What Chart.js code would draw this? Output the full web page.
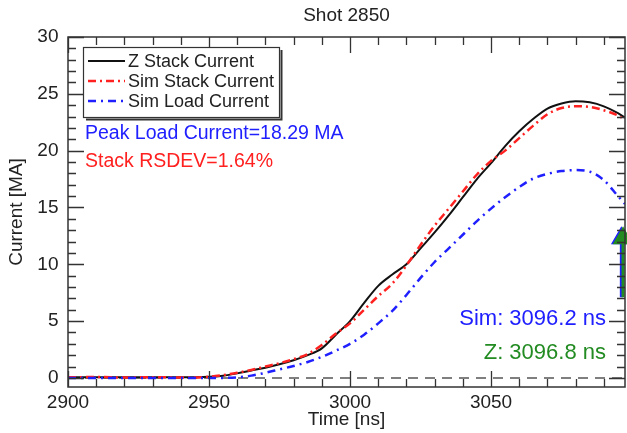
<!DOCTYPE html>
<html>
<head>
<meta charset="utf-8">
<script src="https://cdn.jsdelivr.net/npm/chart.js@4.4.1/dist/chart.umd.min.js"></script>
<style>
  body { margin: 0; background: #fff; }
  #wrap { width: 627px; height: 433px; position: relative; }
</style>
</head>
<body>
<div id="wrap"><canvas id="shotChart"></canvas></div>
<script>
// Time axis samples [ns]
const times = [2900, 2910, 2920, 2930, 2940, 2950, 2955, 2960, 2965, 2970, 2975, 2980, 2985, 2990, 2995,
  3000, 3005, 3010, 3015, 3020, 3025, 3030, 3035, 3040, 3045, 3050, 3055, 3060, 3065, 3070, 3075,
  3080, 3085, 3090, 3095, 3097.5];

// Currents [MA]
const zStack = [0.05, 0.05, 0.05, 0.05, 0.05, 0.1, 0.2, 0.4, 0.65, 0.9, 1.2, 1.55, 2.0, 2.6, 3.8,
  5.0, 6.6, 8.1, 9.1, 10.0, 11.4, 12.8, 14.3, 15.9, 17.5, 18.9, 20.4, 21.7, 22.8, 23.7, 24.15,
  24.35, 24.25, 23.9, 23.3, 22.9];
const simStack = [0.05, 0.08, 0.03, 0.06, 0.04, 0.1, 0.25, 0.45, 0.7, 1.0, 1.3, 1.65, 2.1, 2.9, 3.9,
  4.8, 6.0, 7.2, 8.3, 9.9, 11.7, 13.4, 14.9, 16.4, 17.9, 19.1, 20.0, 21.1, 22.2, 23.2, 23.75,
  23.9, 23.85, 23.55, 23.1, 22.7];
const simLoad = [0, 0, 0, 0, 0, 0, 0, 0.05, 0.2, 0.45, 0.75, 1.05, 1.4, 1.85, 2.4,
  3.0, 3.8, 4.8, 5.9, 7.3, 8.8, 10.2, 11.4, 12.6, 13.8, 14.9, 15.9, 16.8, 17.55, 17.95, 18.2,
  18.29, 18.15, 17.4, 16.0, 15.3];

// Timing markers (arrows) [ns] and their extent [MA]
const markerTimes = [3096.2, 3096.8];
const markerRange = [7.1, 12.3];

// Axis ranges and ticks
const xMin = 2900, xMax = 3097.5;
const yMin = -0.8, yMax = 30;
const xTicks = [2900, 2950, 3000, 3050];
const yTicks = [0, 5, 10, 15, 20, 25, 30];

const FONT = '"Liberation Sans", Arial, sans-serif';
const BLUE = '#2020ff', RED = '#ff2020', GREEN = '#228b22', INK = '#222';

function pts(ys) {
    return times.map((t, i) => ({ x: t, y: ys[i] }));
}

// Draws the IDL-style box, inward ticks, legend and annotations
const decor = {
    id: 'decor',
    afterDraw(chart) {
        const c = chart.ctx;
        const a = chart.chartArea;
        const xs = chart.scales.x, ys = chart.scales.y;
        c.save();
        c.strokeStyle = '#333';
        c.lineWidth = 1.5;
        c.strokeRect(a.left, a.top, a.right - a.left, a.bottom - a.top);

        c.lineWidth = 1.3;
        c.beginPath();
        // x ticks (top and bottom)
        for (let t = xMin; t <= xMax; t += 10) {
            const px = Math.round(xs.getPixelForValue(t)) + 0.5;
            const len = (t % 50 === 0) ? 16 : 8;
            c.moveTo(px, a.bottom); c.lineTo(px, a.bottom - len);
            c.moveTo(px, a.top); c.lineTo(px, a.top + len);
        }
        // y ticks (left and right)
        for (let v = 0; v <= yMax; v += 1) {
            const py = Math.round(ys.getPixelForValue(v)) + 0.5;
            const len = (v % 5 === 0) ? 16 : 8;
            c.moveTo(a.left, py); c.lineTo(a.left + len, py);
            c.moveTo(a.right, py); c.lineTo(a.right - len, py);
        }
        c.stroke();

        // title
        c.fillStyle = INK;
        c.font = '19px ' + FONT;
        c.textAlign = 'center';
        c.textBaseline = 'middle';
        c.fillText('Shot 2850', (a.left + a.right) / 2, 16);

        // legend box
        const lx = 83, ly = 47, lw = 196, lh = 70;
        c.fillStyle = '#fff';
        c.fillRect(lx, ly, lw, lh);
        c.strokeStyle = '#333';
        c.lineWidth = 1.2;
        c.strokeRect(lx + 0.5, ly + 0.5, lw, lh);
        c.lineWidth = 2;
        c.beginPath();
        c.moveTo(lx + 3, ly + lh + 2.5); c.lineTo(lx + lw + 2.5, ly + lh + 2.5); c.lineTo(lx + lw + 2.5, ly + 3);
        c.stroke();
        c.font = '18px ' + FONT;
        chart.data.datasets.slice(0, 3).forEach((ds, i) => {
            const yy = ly + 14 + i * 20;
            c.strokeStyle = ds.borderColor;
            c.lineWidth = ds.borderWidth;
            c.setLineDash(ds.borderDash || []);
            c.beginPath();
            c.moveTo(lx + 5, yy); c.lineTo(lx + 42, yy);
            c.stroke();
            c.setLineDash([]);
            c.fillStyle = INK;
            c.textAlign = 'left';
            c.fillText(ds.label, lx + 45, yy + 1);
        });

        // annotations
        c.font = '19.5px ' + FONT;
        c.textAlign = 'left';
        c.fillStyle = BLUE;
        c.fillText('Peak Load Current=' + Math.max(...simLoad).toFixed(2) + ' MA', 85, 134);
        c.fillStyle = RED;
        c.fillText('Stack RSDEV=1.64%', 85, 162);
        c.font = '22px ' + FONT;
        c.textAlign = 'right';
        c.fillStyle = BLUE;
        c.fillText('Sim: ' + markerTimes[0].toFixed(1) + ' ns', 606, 319);
        c.fillStyle = GREEN;
        c.fillText('Z: ' + markerTimes[1].toFixed(1) + ' ns', 606, 353);
        c.restore();
    }
};

const ctx = document.getElementById('shotChart').getContext('2d');
const shotChart = new Chart(ctx, {
    type: 'line',
    data: {
        datasets: [
            {
                label: 'Z Stack Current',
                data: pts(zStack),
                borderColor: '#111',
                borderWidth: 2,
                cubicInterpolationMode: 'monotone',
                order: 4
            },
            {
                label: 'Sim Stack Current',
                data: pts(simStack),
                borderColor: RED,
                borderWidth: 2.5,
                borderDash: [8, 4, 2, 4],
                cubicInterpolationMode: 'monotone',
                order: 3
            },
            {
                label: 'Sim Load Current',
                data: pts(simLoad),
                borderColor: BLUE,
                borderWidth: 2.5,
                borderDash: [8, 5, 2, 5],
                cubicInterpolationMode: 'monotone',
                order: 2
            },
            {
                label: 'zero',
                data: [{ x: xMin, y: 0 }, { x: xMax, y: 0 }],
                borderColor: '#555',
                borderWidth: 1.5,
                borderDash: [10, 7],
                order: 5
            },
            {
                label: 'Sim marker',
                data: markerRange.map(v => ({ x: markerTimes[0], y: v })),
                borderColor: BLUE,
                backgroundColor: BLUE,
                borderWidth: 3,
                pointStyle: 'triangle',
                pointRadius: [0, 9],
                clip: false,
                order: 1
            },
            {
                label: 'Z marker',
                data: markerRange.map(v => ({ x: markerTimes[1], y: v })),
                borderColor: GREEN,
                backgroundColor: GREEN,
                borderWidth: 3,
                pointStyle: 'triangle',
                pointRadius: [0, 9],
                clip: false,
                order: 0
            }
        ]
    },
    options: {
        responsive: true,
        maintainAspectRatio: false,
        animation: false,
        layout: { autoPadding: false, padding: { top: 37, right: 2, left: 0, bottom: 0 } },
        elements: { point: { radius: 0, hoverRadius: 0 } },
        plugins: {
            legend: { display: false },
            tooltip: { enabled: false },
            title: { display: false }
        },
        scales: {
            x: {
                type: 'linear',
                min: xMin,
                max: xMax,
                afterFit: s => { s.height = 46; s.paddingLeft = 0; s.paddingRight = 0; },
                afterBuildTicks: s => { s.ticks = xTicks.map(v => ({ value: v })); },
                grid: { display: false, drawTicks: false },
                border: { display: false },
                ticks: { color: INK, font: { size: 19, family: FONT }, padding: 4, maxRotation: 0, callback: v => String(v) },
                title: { display: true, text: 'Time [ns]', color: INK, font: { size: 19, family: FONT }, padding: { top: 0, bottom: 2 } }
            },
            y: {
                type: 'linear',
                min: yMin,
                max: yMax,
                afterFit: s => { s.width = 68; s.paddingTop = 0; s.paddingBottom = 0; },
                afterBuildTicks: s => { s.ticks = yTicks.map(v => ({ value: v })); },
                grid: { display: false, drawTicks: false },
                border: { display: false },
                ticks: { color: INK, font: { size: 19, family: FONT }, padding: 9.5, callback: v => String(v) },
                title: { display: true, text: 'Current [MA]', color: INK, font: { size: 19, family: FONT }, padding: { top: 5, bottom: 0 } }
            }
        }
    },
    plugins: [decor]
});
</script>
</body>
</html>
